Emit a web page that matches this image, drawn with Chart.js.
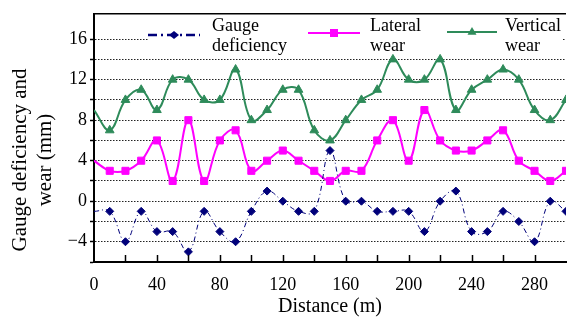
<!DOCTYPE html>
<html>
<head>
<meta charset="utf-8">
<script src="https://cdn.jsdelivr.net/npm/chart.js@4.4.0/dist/chart.umd.min.js"></script>
<style>
html, body { margin: 0; padding: 0; background: #fff; }
</style>
</head>
<body>
<canvas id="wear-chart" width="578" height="320"></canvas>
<script>
// values, one point every 10 m
var distance = [0, 10, 20, 30, 40, 50, 60, 70, 80, 90, 100, 110, 120, 130, 140, 150,
    160, 170, 180, 190, 200, 210, 220, 230, 240, 250, 260, 270, 280, 290, 300];
var gaugeDeficiency = [-1, -1, -4, -1, -3, -3, -5, -1, -3, -4, -1, 1, 0, -1, -1, 5,
    0, 0, -1, -1, -1, -3, 0, 1, -3, -3, -1, -2, -4, 0, -1];
var lateralWear = [4, 3, 3, 4, 6, 2, 8, 2, 6, 7, 3, 4, 5, 4, 3, 2,
    3, 3, 6, 8, 4, 9, 6, 5, 5, 6, 7, 4, 3, 2, 3];
var verticalWear = [9, 7, 10, 11, 9, 12, 12, 10, 10, 13, 8, 9, 11, 11, 7, 6,
    8, 10, 11, 14, 12, 12, 14, 9, 11, 12, 13, 12, 9, 8, 10];

var seriesNames = ["Gauge\ndeficiency", "Lateral\nwear", "Vertical\nwear"];
var xTickValues = [0, 20, 40, 60, 80, 100, 120, 140, 160, 180, 200, 220, 240, 260, 280, 300];
var yTickValues = [-6, -4, -2, 0, 2, 4, 6, 8, 10, 12, 14, 16];
var xTitle = "Distance (m)";
var yTitle = ["Gauge deficiency and", "wear (mm)"];

var serif = "'Liberation Serif', 'Times New Roman', serif";
var navy = "#00007a", magenta = "#ff00ff", green = "#2e8b5a";

var toPoints = function (ys) {
    return distance.map((d, i) => ({ x: d, y: ys[i] }));
};
// no marker on the first point, the curve just enters from the axis
var hideFirst = function (r) {
    return ctx => ctx.dataIndex === 0 ? 0 : r;
};

// white legend box sitting over the top gridline
var legendItems = [
    { x0: 148, x1: 200, y: 35, tx: 212 },
    { x0: 308, x1: 360, y: 33, tx: 370 },
    { x0: 447, x1: 497, y: 32, tx: 505 }
];
var drawMarker = function (ctx, style, x, y, r, color) {
    ctx.fillStyle = color;
    ctx.beginPath();
    if (style === "rectRot") {
        ctx.moveTo(x - r, y); ctx.lineTo(x, y - r * 0.8); ctx.lineTo(x + r, y); ctx.lineTo(x, y + r * 0.8);
    } else if (style === "rect") {
        ctx.rect(x - r * 0.8, y - r * 0.8, r * 1.6, r * 1.6);
    } else {
        ctx.moveTo(x, y - r); ctx.lineTo(x + r * 0.9, y + r * 0.55); ctx.lineTo(x - r * 0.9, y + r * 0.55);
    }
    ctx.closePath();
    ctx.fill();
};
var boxLegend = {
    id: "boxLegend",
    beforeDatasetsDraw: function (chart) {
        var ctx = chart.ctx;
        ctx.save();
        ctx.fillStyle = "#fff";
        ctx.fillRect(148, chart.chartArea.top + 1, 415, 40);
        chart.data.datasets.forEach((ds, i) => {
            var it = legendItems[i];
            ctx.strokeStyle = ds.borderColor;
            ctx.lineWidth = ds.borderWidth + (i === 0 ? 1.5 : 0);
            ctx.setLineDash(i === 0 ? [9, 4, 2, 4] : []);
            ctx.beginPath(); ctx.moveTo(it.x0, it.y); ctx.lineTo(it.x1, it.y); ctx.stroke();
            ctx.setLineDash([]);
            drawMarker(ctx, ds.pointStyle, (it.x0 + it.x1) / 2, it.y, 5, ds.pointBackgroundColor);
            ctx.fillStyle = "#000";
            ctx.font = "18px " + serif;
            ctx.textAlign = "left";
            ctx.textBaseline = "alphabetic";
            ds.label.split("\n").forEach((line, k) => ctx.fillText(line, it.tx, 31 + k * 20));
        });
        ctx.restore();
    },
    afterDraw: function (chart) {
        var ctx = chart.ctx, area = chart.chartArea, xs = chart.scales.x;
        ctx.save();
        ctx.strokeStyle = "#000";
        // top frame line
        ctx.lineWidth = 1.5;
        ctx.beginPath(); ctx.moveTo(area.left, area.top); ctx.lineTo(area.right, area.top); ctx.stroke();
        // inward tick marks on the distance axis
        xTickValues.forEach(v => {
            if (v === 0 || v === 300) return;
            var px = Math.round(xs.getPixelForValue(v)) + 0.5;
            ctx.beginPath(); ctx.moveTo(px, area.bottom); ctx.lineTo(px, area.bottom - 7); ctx.stroke();
        });
        // two-line y title
        ctx.fillStyle = "#000";
        ctx.font = "21px " + serif;
        ctx.textAlign = "center";
        ctx.textBaseline = "alphabetic";
        ctx.translate(0, 160);
        ctx.rotate(-Math.PI / 2);
        ctx.fillText(yTitle[0], 0, 26);
        ctx.fillText(yTitle[1], 0, 51);
        ctx.restore();
    }
};

var chart = new Chart(document.getElementById("wear-chart"), {
    type: "line",
    data: {
        datasets: [{
            label: seriesNames[0],
            data: toPoints(gaugeDeficiency),
            borderColor: navy,
            borderWidth: 1,
            borderDash: [5, 3, 1, 3],
            pointStyle: "rectRot",
            pointRadius: hideFirst(4),
            pointBackgroundColor: navy,
            pointBorderColor: navy,
            pointBorderWidth: 1,
            tension: 0.4
        }, {
            label: seriesNames[1],
            data: toPoints(lateralWear),
            borderColor: magenta,
            borderWidth: 2,
            pointStyle: "rect",
            pointRadius: hideFirst(5),
            pointBackgroundColor: magenta,
            pointBorderColor: magenta,
            pointBorderWidth: 1,
            tension: 0.4
        }, {
            label: seriesNames[2],
            data: toPoints(verticalWear),
            borderColor: green,
            borderWidth: 2,
            pointStyle: "triangle",
            pointRadius: hideFirst(5),
            pointBackgroundColor: green,
            pointBorderColor: green,
            pointBorderWidth: 1,
            tension: 0.4
        }]
    },
    options: {
        responsive: false,
        animation: false,
        layout: { padding: { top: 11, left: 0, right: 0, bottom: 0 } },
        plugins: {
            legend: { display: false },
            tooltip: { enabled: false }
        },
        scales: {
            x: {
                type: "linear",
                min: 0,
                max: 300,
                afterBuildTicks: s => { s.ticks = xTickValues.map(v => ({ value: v })); },
                afterFit: s => { s.height = 58; },
                grid: { display: false, drawTicks: false },
                border: { display: true, color: "#000", width: 2 },
                ticks: {
                    autoSkip: false,
                    maxRotation: 0,
                    padding: 12,
                    color: "#000",
                    font: { family: serif, size: 18 },
                    callback: v => (v % 40 === 0 && v < 300) ? v : ""
                },
                title: {
                    display: true,
                    text: xTitle,
                    color: "#000",
                    font: { family: serif, size: 20 },
                    padding: { top: 0, bottom: 1 }
                }
            },
            y: {
                min: -6,
                max: 18.5,
                afterBuildTicks: s => { s.ticks = yTickValues.map(v => ({ value: v })); },
                afterFit: s => { s.width = 94; },
                grid: {
                    color: "#222",
                    lineWidth: 1,
                    drawTicks: true,
                    tickLength: 4,
                    tickColor: "#000",
                    tickWidth: 1.5,
                    tickBorderDash: []
                },
                border: { display: true, color: "#000", width: 2, dash: [1.5, 1.5] },
                ticks: {
                    autoSkip: false,
                    padding: 3,
                    color: "#000",
                    font: { family: serif, size: 18 },
                    callback: v => v % 4 === 0 ? (v < 0 ? "\u2212" + Math.abs(v) : "" + v) : ""
                }
            }
        }
    },
    plugins: [boxLegend]
});
</script>
</body>
</html>
